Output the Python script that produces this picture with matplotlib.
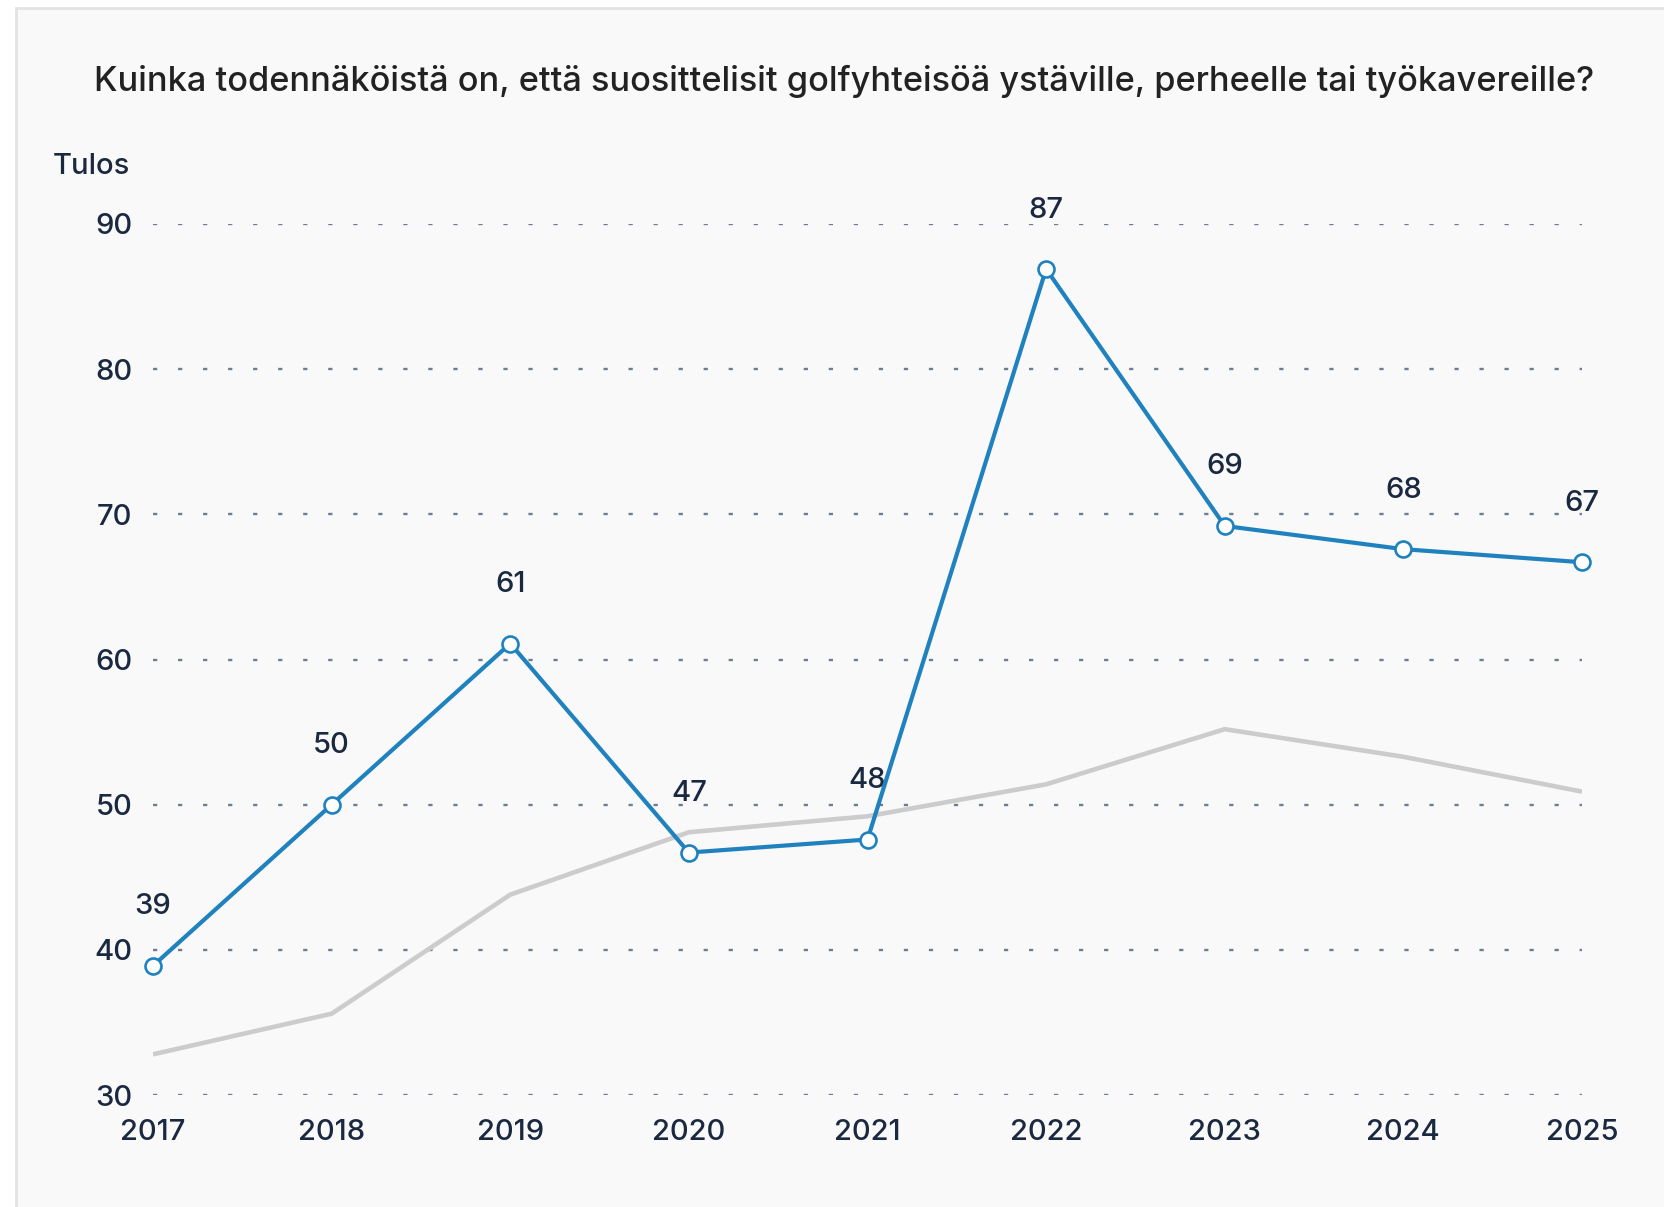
import matplotlib
matplotlib.use("Agg")
import matplotlib.pyplot as plt
from matplotlib.patches import Rectangle

years = [2017, 2018, 2019, 2020, 2021, 2022, 2023, 2024, 2025]
tulos = [38.9, 50.0, 61.1, 46.7, 47.6, 86.9, 69.2, 67.6, 66.7]
vertailu = [32.8, 35.6, 43.8, 48.1, 49.2, 51.4, 55.2, 53.3, 50.9]
yticks = [30, 40, 50, 60, 70, 80, 90]
title = "Kuinka todennäköistä on, että suosittelisit golfyhteisöä ystäville, perheelle tai työkavereille?"

plt.rcParams['font.family'] = ['Inter', 'DejaVu Sans']
W, H = 1665, 1207
fig = plt.figure(figsize=(W / 100, H / 100), dpi=100)
fig.patch.set_facecolor('white')
fig.patches.append(Rectangle((16 / W, -0.1), 1.2, 1 - 8 / H + 0.1, transform=fig.transFigure,
                             facecolor='#f9f9f9', edgecolor='#e3e3e3', linewidth=2, zorder=-5))

ax = fig.add_axes([153 / W, 112 / H, (1582 - 153) / W, (1095 - 224) / H])
ax.set_zorder(2)
ax.set_facecolor('none')
for s in ax.spines.values():
    s.set_visible(False)
ax.set_xlim(years[0], years[-1])
ax.set_ylim(30, 90)
ax.set_yticks(yticks)
ax.set_xticks(years)
ax.set_xticklabels([str(y) for y in years])
ax.tick_params(axis='both', length=0, labelsize=21, labelcolor='#1a2940')
ax.tick_params(axis='y', pad=15)
ax.tick_params(axis='x', pad=17)
for lab in ax.get_xticklabels() + ax.get_yticklabels():
    lab.set_fontweight(500)
for yv in yticks:
    ax.axhline(yv, color='#6f7d93', linewidth=1.7, linestyle=(0, (1.8, 8.8)), zorder=1)

ax.plot(years, vertailu, color='#cccccc', linewidth=3.3, zorder=2, solid_capstyle='butt')
ax.plot(years, tulos, color='#1f82bf', linewidth=3.0, zorder=4,
        marker='o', markersize=11.5, markerfacecolor='white', markeredgecolor='#1f82bf',
        markeredgewidth=1.9, clip_on=False)
for x, v in zip(years, tulos):
    ax.annotate(f"{v:.0f}", (x, v), xytext=(0, 59), textcoords='offset pixels',
                ha='center', va='center', fontsize=21, fontweight=500, color='#1a2940', zorder=3,
                annotation_clip=False)

fig.text(844 / W, 1 - 81 / H, title, ha='center', va='center', fontsize=24.7, fontweight=500,
         color='#222222')
fig.text(53 / W, 1 - 167 / H, "Tulos", ha='left', va='center', fontsize=21, fontweight=500,
         color='#1a2940')

fig.savefig('out.png', dpi=100, facecolor=fig.get_facecolor())
